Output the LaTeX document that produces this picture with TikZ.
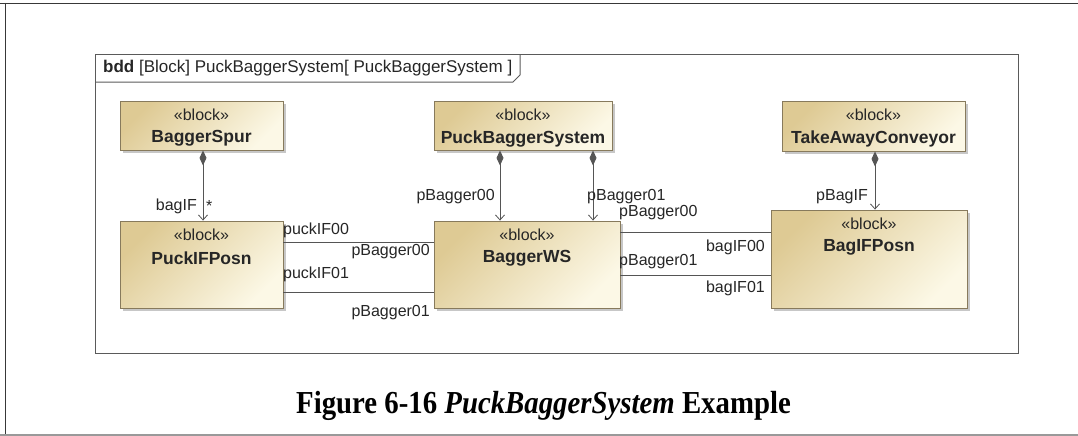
\documentclass[tikz,border=0pt]{standalone}
\usepackage{fontspec}
\setmainfont{Liberation Serif}
\newfontfamily\lsans{Liberation Sans}
\usetikzlibrary{arrows.meta,shadows,calc}

\definecolor{blkdark}{HTML}{DECA94}
\definecolor{blklight}{HTML}{FCF8E6}
\definecolor{blkborder}{HTML}{877A5C}
\definecolor{linec}{HTML}{555555}
\definecolor{txtc}{HTML}{262626}
\definecolor{framec}{HTML}{5A5A5A}

\tikzset{
  blk/.style={draw=blkborder, line width=0.9pt, rectangle,
    top color=blkdark, bottom color=blklight, shading angle=45,
    drop shadow={shadow xshift=3pt, shadow yshift=-3pt, fill=black!40, opacity=0.55}},
  stereo/.style={font=\lsans\fontsize{16}{18}\selectfont, text=txtc, inner sep=0pt},
  bname/.style={font=\lsans\bfseries\fontsize{17.5}{20}\selectfont, text=txtc, inner sep=0pt},
  lbl/.style={font=\lsans\fontsize{16}{18}\selectfont, text=txtc, inner sep=0pt},
  conn/.style={draw=linec, line width=0.9pt},
  comp/.style={draw=linec, line width=0.9pt,
    {Diamond[length=15pt,width=7pt,fill=linec]}-{Straight Barb[length=5pt,width=9pt,line width=0.8pt]}},
}

\begin{document}
\begin{tikzpicture}[x=1pt,y=-1pt]
\useasboundingbox (0,0) rectangle (1078,436);

% page rules
\draw[line width=1.8pt, black!78] (0,3.5) -- (1078,3.5);
\draw[line width=1.8pt, black!78] (5.5,3) -- (5.5,436);
\draw[line width=1.6pt, black!40] (0,434.8) -- (1078,434.8);

% diagram frame
\draw[framec, line width=1pt] (95,55) rectangle (1018,353);
\draw[framec, line width=1pt] (95,82) -- (513,82) -- (520,75) -- (520,55);
\node[lbl, font=\lsans\fontsize{17}{19}\selectfont, anchor=west] (title) at (103,68.5)
  {\textbf{bdd} [Block] PuckBaggerSystem[ PuckBaggerSystem ]};

% blocks
\node[blk, minimum width=163pt, minimum height=49pt] (spur) at (201.5,125.5) {};
\node[blk, minimum width=178pt, minimum height=49pt] (pbs)  at (523,125.5) {};
\node[blk, minimum width=183pt, minimum height=50pt] (tac)  at (873.5,126) {};
\node[blk, minimum width=163pt, minimum height=87pt] (pif)  at (201.5,264.5) {};
\node[blk, minimum width=186pt, minimum height=87pt] (bws)  at (527,264.5) {};
\node[blk, minimum width=196pt, minimum height=98pt] (bif)  at (869,259) {};

\foreach \b/\n in {spur/BaggerSpur, pbs/PuckBaggerSystem, tac/TakeAwayConveyor,
                   pif/PuckIFPosn, bws/BaggerWS, bif/BagIFPosn}{
  \node[stereo] (\b-s) at ($(\b.north)+(0,14)$) {«block»};
  \node[bname]  (\b-n) at ($(\b.north)+(0,38)$) {\n};
}

% reference coordinates
\coordinate (xa) at (203,0);
\coordinate (xb) at (500,0);
\coordinate (xc) at (593,0);
\coordinate (xd) at (875,0);
\coordinate (ya) at (0,242);
\coordinate (yb) at (0,292);
\coordinate (yc) at (0,232);
\coordinate (yd) at (0,275);

% composition connectors
\draw[comp] (spur.south -| xa) -- (pif.north -| xa);
\draw[comp] (pbs.south -| xb) -- (bws.north -| xb);
\draw[comp] (pbs.south -| xc) -- (bws.north -| xc);
\draw[comp] (tac.south -| xd) -- (bif.north -| xd);

% connectors between parts
\draw[conn] (pif.east |- ya) -- (bws.west |- ya);
\draw[conn] (pif.east |- yb) -- (bws.west |- yb);
\draw[conn] (bws.east |- yc) -- (bif.west |- yc);
\draw[conn] (bws.east |- yd) -- (bif.west |- yd);

% labels
\node[lbl, anchor=east] (l1) at (197,206) {bagIF};
\node[lbl, anchor=west] (l2) at (206,206) {*};
\node[lbl, anchor=east] (l3) at (495,197) {pBagger00};
\node[lbl, anchor=west] (l4) at (587,197) {pBagger01};
\node[lbl, anchor=east] (l5) at (868,197) {pBagIF};
\node[lbl, anchor=west] (l6) at (619,213) {pBagger00};
\node[lbl, anchor=west] (l7) at (619,262) {pBagger01};
\node[lbl, anchor=east] (l8) at (765,247) {bagIF00};
\node[lbl, anchor=east] (l9) at (765,288) {bagIF01};
\node[lbl, anchor=west] (l10) at (283,230) {puckIF00};
\node[lbl, anchor=west] (l11) at (283,274) {puckIF01};
\node[lbl, anchor=east] (l12) at (430,252) {pBagger00};
\node[lbl, anchor=east] (l13) at (430,313) {pBagger01};

% caption
\node[font=\bfseries\fontsize{32}{36}\selectfont, inner sep=0pt] (cap) at (543.5,406)
  {\scalebox{0.9}[1]{Figure 6-16 \textit{PuckBaggerSystem} Example}};
\end{tikzpicture}
\end{document}
